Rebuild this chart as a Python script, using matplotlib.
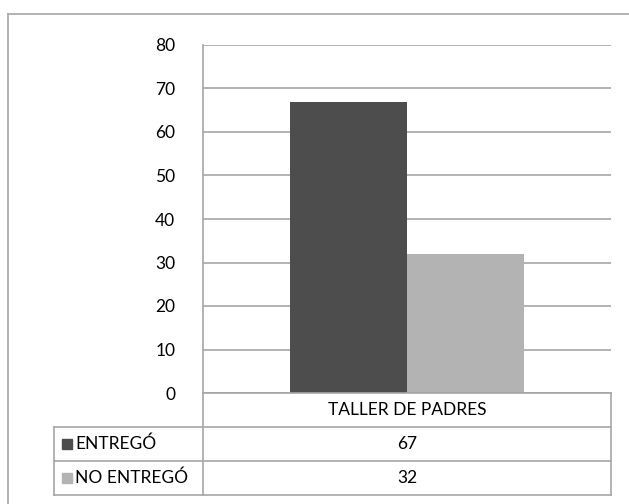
import matplotlib
matplotlib.use("Agg")
import matplotlib.pyplot as plt
from matplotlib.lines import Line2D
from matplotlib.patches import Rectangle

categories = ["TALLER DE PADRES"]
series_names = ["ENTREGÓ", "NO ENTREGÓ"]
entrego = [67]
no_entrego = [32]
series_values = [entrego, no_entrego]
colors = ["#4d4d4d", "#b3b3b3"]
yticks = [0, 10, 20, 30, 40, 50, 60, 70, 80]

W, H = 629, 504
plt.rcParams['font.family'] = ['Lato', 'DejaVu Sans']
FS = 12.5
fig = plt.figure(figsize=(W / 100, H / 100), dpi=100)

def fx(x):
    return x / W

def fy(y):
    return 1 - y / H

grid_c = "#a6a6a6"
L, R, T, B = 203, 611, 45, 393
ax = fig.add_axes([fx(L), fy(B), fx(R) - fx(L), fy(T) - fy(B)])
ax.set_xlim(0, 1)
ax.set_ylim(0, 80)
bw = 117 / (R - L)
for i, (vals, c) in enumerate(zip(series_values, colors)):
    off = (i - 0.5) * bw
    ax.bar([0.5 + off], vals, width=bw, color=c, zorder=3)
ax.set_yticks(yticks)
ax.set_yticklabels([str(t) for t in yticks], fontsize=FS, color="#000000")
ax.tick_params(axis='y', length=0, pad=20)
ax.set_xticks([])
ax.grid(axis='y', color=grid_c, linewidth=1.2, zorder=0)
for s in ["top", "right", "bottom"]:
    ax.spines[s].set_visible(False)
ax.spines["left"].set_color(grid_c)
ax.spines["left"].set_linewidth(1.2)

# outer frame
fig.add_artist(Line2D([fx(8), fx(8)], [fy(13.5), fy(504)], color=grid_c, lw=1.2))
fig.add_artist(Line2D([fx(8), fx(629)], [fy(13.5), fy(13.5)], color=grid_c, lw=1.2))

# data table
rows_y = [393, 427, 461, 495]
lw = 1.2
fig.add_artist(Line2D([fx(L), fx(R)], [fy(393), fy(393)], color=grid_c, lw=lw))
for y in rows_y[1:]:
    fig.add_artist(Line2D([fx(54), fx(R)], [fy(y), fy(y)], color=grid_c, lw=lw))
fig.add_artist(Line2D([fx(54), fx(54)], [fy(427), fy(495)], color=grid_c, lw=lw))
fig.add_artist(Line2D([fx(L), fx(L)], [fy(393), fy(495)], color=grid_c, lw=lw))
fig.add_artist(Line2D([fx(R), fx(R)], [fy(393), fy(495)], color=grid_c, lw=lw))

cx = (L + R) / 2
fig.text(fx(cx), fy(410), categories[0], ha='center', va='center', fontsize=FS)
for i, (name, vals, c) in enumerate(zip(series_names, series_values, colors)):
    yc = (rows_y[i + 1] + rows_y[i + 2]) / 2
    fig.add_artist(Rectangle((fx(62), fy(yc + 5)), fx(10), 10 / H, color=c, transform=fig.transFigure))
    fig.text(fx(75), fy(yc), name, ha='left', va='center', fontsize=FS)
    fig.text(fx(cx), fy(yc), str(vals[0]), ha='center', va='center', fontsize=FS)

fig.savefig("out.png", dpi=100)
